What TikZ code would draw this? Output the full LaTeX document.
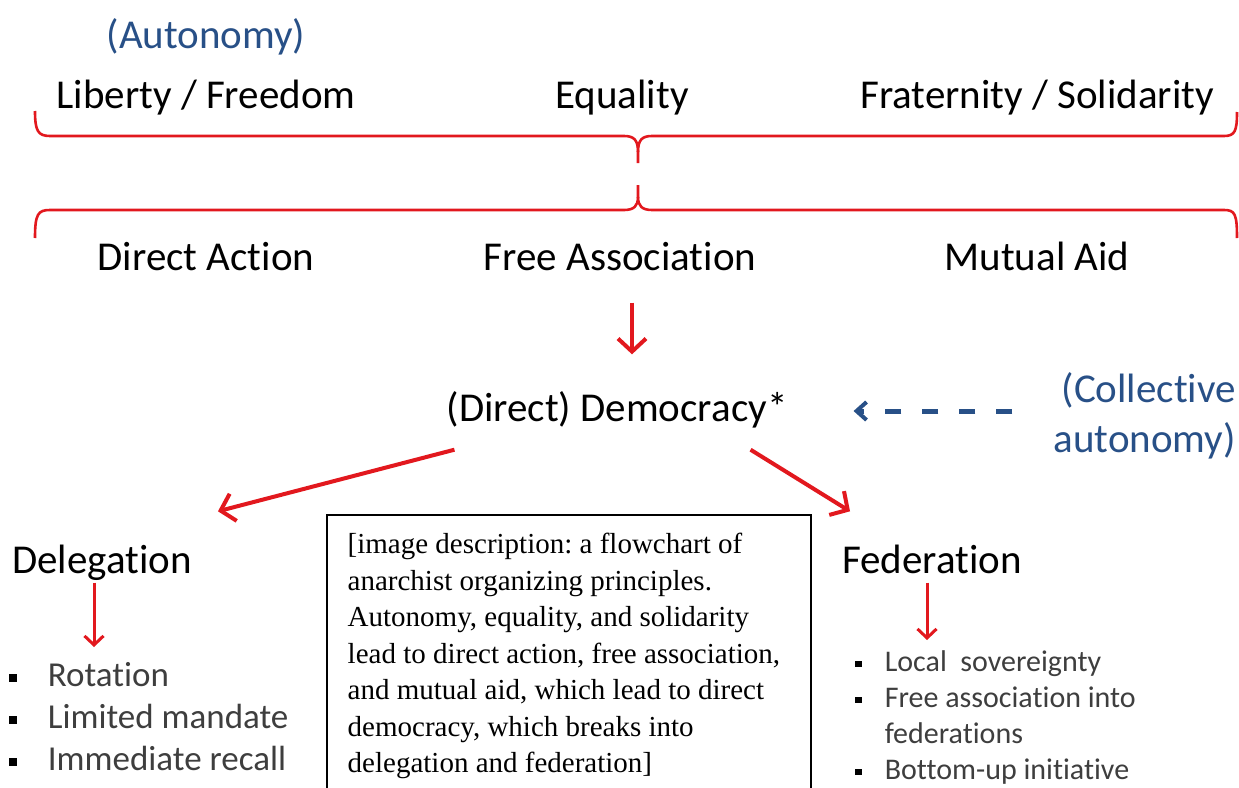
\documentclass[tikz,border=0pt]{standalone}
\usepackage{fontspec}
\setmainfont{Carlito}[Ligatures=NoCommon]
\newfontfamily\descfont{Liberation Serif}
\usetikzlibrary{arrows.meta}

\definecolor{brred}{RGB}{226,24,30}
\definecolor{ltblue}{RGB}{40,80,135}
\definecolor{itemgray}{RGB}{62,62,62}

\newcommand{\bigfont}{\fontsize{41}{50}\selectfont}
\newcommand{\sqbullet}{{\color{black}\rule[0.14em]{0.22em}{0.22em}}}

\tikzset{
  lbl/.style={inner sep=0pt, font=\bigfont, text height=30pt, text depth=9pt},
  note/.style={text=ltblue},
  items/.style={inner sep=0pt, text=itemgray, anchor=north west},
  brace/.style={draw=brred, line width=2.6pt},
  bigarrow/.style={draw=brred, line width=4pt, -{Straight Barb[length=13pt,width=28pt]}},
  smallarrow/.style={draw=brred, line width=3pt, -{Straight Barb[length=9pt,width=19pt]}},
  dasharrow/.style={draw=ltblue, line width=5pt, dash pattern=on 16pt off 21pt,
    -{Straight Barb[length=10pt,width=18pt,line width=4pt]}},
  desc/.style={inner xsep=20.5pt, inner ysep=18.3pt, align=left,
    font=\descfont\fontsize{29}{36.5}\selectfont\frenchspacing}
}

\begin{document}
\begin{tikzpicture}[x=1pt,y=-1pt]
  \useasboundingbox (0,0) rectangle (1239,787);
  \draw
    (206,38) node[lbl, note] (aut){(Autonomy)}
    (206,98) node[lbl] (lib){Liberty / Freedom}
    (622,98) node[lbl] (eq){Equality}
    (1037,98) node[lbl] (fra){Fraternity / Solidarity}
    (206,260) node[lbl] (da){Direct Action}
    (620,260) node[lbl] (fa){Free Association}
    (1037,260) node[lbl] (ma){Mutual Aid}
    (617,411) node[lbl] (dem){(Direct) Democracy*}
    (102,563) node[lbl] (dele){Delegation}
    (932,563) node[lbl] (fed){Federation};
  \node[note, inner sep=0pt, font=\bigfont, align=right, anchor=north east]
    (coll) at (1236,372) {(Collective\\autonomy)};

  % upper and lower braces
  \draw[brace] (35,111) .. controls (35,131) and (38,136) .. (50,136) -- (624,136)
    .. controls (634,136) and (638,140) .. (638,152) -- (638,163);
  \draw[brace] (638,152) .. controls (638,140) and (642,136) .. (652,136) -- (1224,136)
    .. controls (1235,136) and (1237,131) .. (1237,112);
  \draw[brace] (638,185) -- (638,197) .. controls (638,206) and (634,210) .. (624,210)
    -- (50,210) .. controls (38,210) and (35,214) .. (35,238);
  \draw[brace] (638,197) .. controls (638,206) and (642,210) .. (652,210) -- (1224,210)
    .. controls (1235,210) and (1237,214) .. (1237,238);

  \node[items, font=\fontsize{35}{42}\selectfont] (dlist) at (9,657) {%
    \begin{tabular}{@{}l@{\hspace{31pt}}l@{}}
      \sqbullet & Rotation\\
      \sqbullet & Limited mandate\\
      \sqbullet & Immediate recall
    \end{tabular}};
  \node[items, font=\fontsize{30}{36}\selectfont] (flist) at (855,646) {%
    \begin{tabular}{@{}l@{\hspace{23pt}}l@{}}
      \sqbullet & Local~ sovereignty\\
      \sqbullet & Free association into\\
                & federations\\
      \sqbullet & Bottom-up initiative
    \end{tabular}};

  \node[desc, anchor=north west] (desc) at (327,515) {%
    [image description: a flowchart of\\
    anarchist organizing principles.\\
    Autonomy, equality, and solidarity\\
    lead to direct action, free association,\\
    and mutual aid, which lead to direct\\
    democracy, which breaks into\\
    delegation and federation]};
  \draw[line width=1.3pt] ([yshift=-275pt]desc.north west) -- (desc.north west)
    -- ++(484,0) -- ++(0,275);

  \begin{scope}
    \draw[bigarrow, shorten <=23pt, shorten >=37pt]
      ([xshift=12pt]fa.south) -- ([xshift=12pt]fa.south |- dem.north);
    \draw[bigarrow] ([shift={(8,19)}]dem.south west) -- ([shift={(26,-32)}]dele.north east);
    \draw[bigarrow] ([shift={(-37,19)}]dem.south east) -- ([shift={(8,-32)}]fed.north west);
    \draw[smallarrow, shorten >=10pt]
      ([xshift=-8pt]dele.south) -- ([xshift=-8pt]dele.south |- dlist.north);
    \draw[smallarrow, shorten >=6pt]
      ([xshift=-5pt]fed.south) -- ([xshift=-5pt]fed.south |- flist.north);
    \draw[dasharrow, shorten <=41pt, shorten >=66pt] (coll.west |- dem) -- (dem.east);
  \end{scope}
\end{tikzpicture}
\end{document}
